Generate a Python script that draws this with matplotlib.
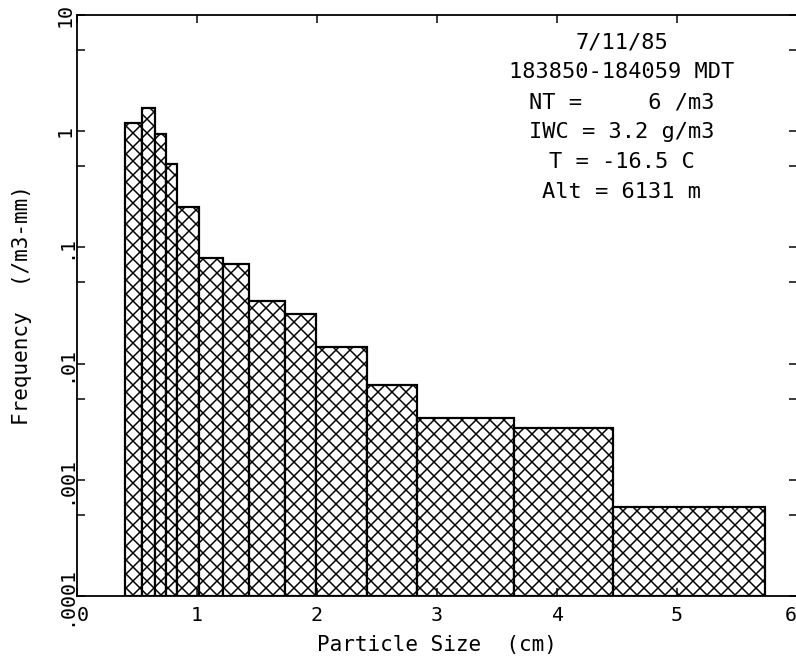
import matplotlib
matplotlib.use('Agg')
import matplotlib.pyplot as plt
import numpy as np

# bin edges of the size classes (cm) and the concentration in each bin
bin_edges = [0.40, 0.54, 0.65, 0.74, 0.83, 1.02, 1.22, 1.43, 1.73, 1.99,
             2.42, 2.83, 3.64, 4.47, 5.73]
frequency = [1.18, 1.59, 0.95, 0.524, 0.223, 0.0804, 0.0724, 0.0342, 0.0267,
             0.0137, 0.00646, 0.00327, 0.00268, 0.00048]

x_ticks = [0, 1, 2, 3, 4, 5, 6]
x_ticklabels = ['0', '1', '2', '3', '4', '5', '6']
y_ticks = [1e-4, 1e-3, 1e-2, 1e-1, 1, 10]
y_ticklabels = ['.0001', '.001', '.01', '.1', '1', '10']
y_minor = [5e-4, 5e-3, 5e-2, 5e-1, 5]

info_lines = ['7/11/85',
              '183850-184059 MDT',
              'NT =     6 /m3',
              'IWC = 3.2 g/m3',
              'T = -16.5 C',
              'Alt = 6131 m']

# dpi chosen so that the hatch cell gives ~14 px diamonds
DPI = 84


def px(v):
    # pixels -> points at this dpi
    return v * 72.0 / DPI


plt.rcParams['font.family'] = ['DejaVu Sans Mono']
plt.rcParams['hatch.linewidth'] = px(1.5)

W, H = 796, 666
fig = plt.figure(figsize=(W / DPI, H / DPI), dpi=DPI)
ax = fig.add_axes([77 / W, 70 / H, 720 / W, 581 / H])

edges = np.array(bin_edges)
ax.bar(edges[:-1], frequency, width=np.diff(edges), align='edge',
       bottom=1e-4, facecolor='white', edgecolor='black', hatch='xx',
       linewidth=px(2.2))

ax.set_yscale('log')
ax.set_xlim(0, 6)
ax.set_ylim(1e-4, 10)

ax.set_xticks(x_ticks)
ax.set_xticklabels(x_ticklabels, fontsize=px(20))
# first and last labels sit on the corners, nudge them inside
xl = ax.get_xticklabels()
xl[0].set_horizontalalignment('left')
xl[-1].set_horizontalalignment('right')
ax.set_yticks(y_ticks)
ax.set_yticklabels(y_ticklabels, fontsize=px(20), rotation=90, va='center')
ax.set_yticks(y_minor, minor=True)
ax.yaxis.set_minor_formatter(matplotlib.ticker.NullFormatter())
ax.tick_params(which='both', direction='in', length=px(8), width=px(1.5),
               top=True, right=True)
ax.tick_params(axis='x', pad=px(10))
ax.tick_params(axis='y', pad=px(2))
for s in ax.spines.values():
    s.set_linewidth(px(1.8))

ax.set_xlabel('Particle Size  (cm)', fontsize=px(21), labelpad=px(10))
ax.set_ylabel('Frequency  (/m3-mm)', fontsize=px(21))
ax.yaxis.set_label_coords(-0.062, 0.5)

# annotation block, one line every 30 px
for i, line in enumerate(info_lines):
    y_px = 42 + 30 * i
    fig.text(622 / W, 1 - y_px / H, line, fontsize=px(22),
             ha='center', va='center')

fig.savefig('out.png', dpi=DPI)
